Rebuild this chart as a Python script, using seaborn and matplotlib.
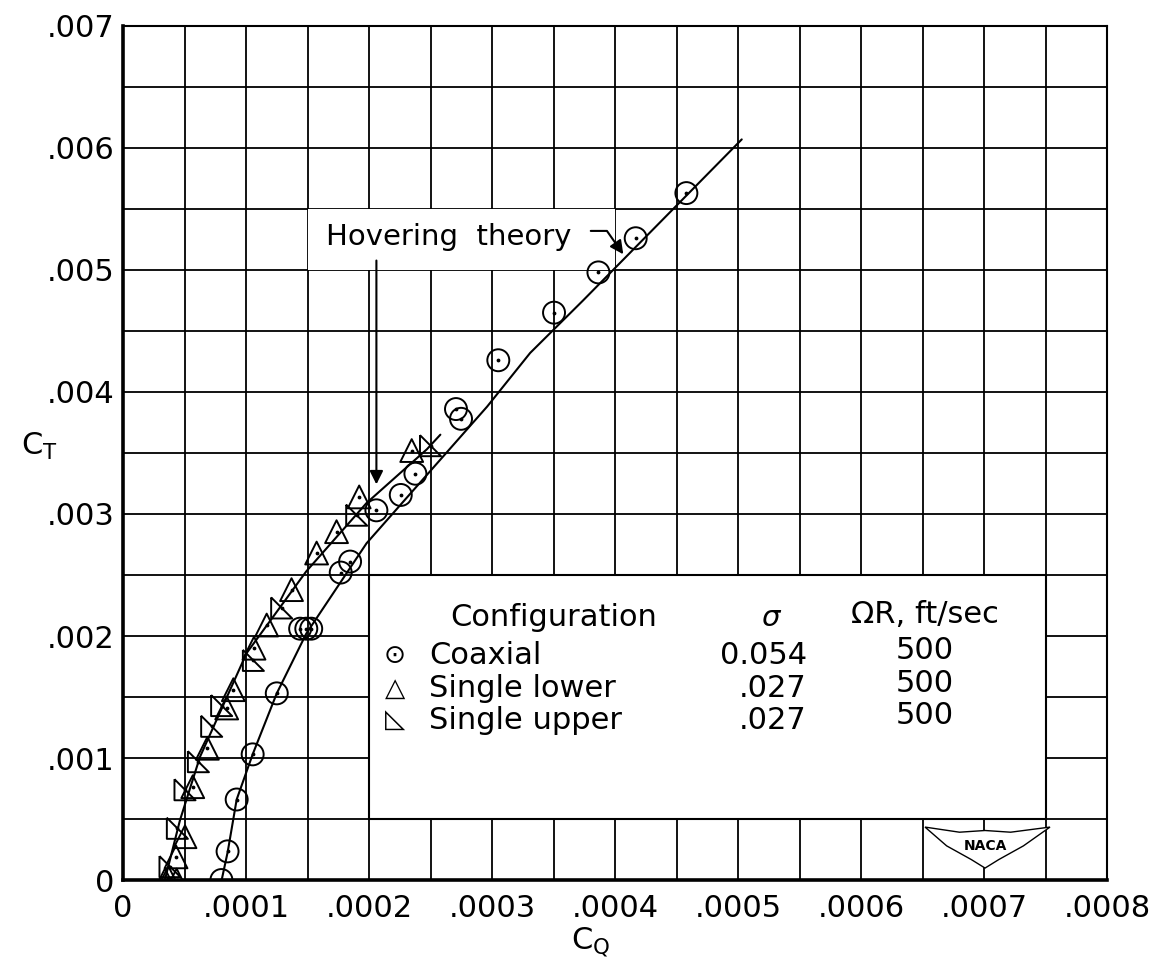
import numpy as np
import pandas as pd
import matplotlib.pyplot as plt
import matplotlib.patches as mpatches
import seaborn as sns

# Coaxial rotor test points (C_Q, C_T)
coax_cq = [0.0000800, 0.0000850, 0.0000924, 0.0001054, 0.0001250, 0.0001440, 0.0001490,
           0.0001530, 0.0001770, 0.0001846, 0.0002060, 0.0002258, 0.0002377, 0.0002707,
           0.0002748, 0.0003051, 0.0003504, 0.0003865, 0.0004168, 0.0004580]
coax_ct = [0.00000, 0.000235, 0.00066, 0.00103, 0.00153, 0.00206, 0.00206,
           0.00206, 0.00252, 0.00261, 0.00303, 0.003156, 0.00333, 0.00386,
           0.00378, 0.00426, 0.00465, 0.00498, 0.00526, 0.00563]

# Single lower rotor
lower_cq = [0.0000341, 0.0000369, 0.0000436, 0.0000431, 0.0000504, 0.0000567, 0.0000686,
            0.0000843, 0.0000897, 0.0001065, 0.0001168, 0.0001370, 0.0001574, 0.0001736,
            0.0001920, 0.0002347]
lower_ct = [0.00000, 0.00002, 0.00000, 0.00019, 0.000355, 0.000765, 0.00108,
            0.00141, 0.00156, 0.00190, 0.00209, 0.00238, 0.00268, 0.002855,
            0.00314, 0.00352]

# Single upper rotor
upper_cq = [0.0000382, 0.0000442, 0.0000504, 0.0000613, 0.0000721, 0.0000802, 0.0001060,
            0.0001290, 0.0001900, 0.0002500]
upper_ct = [0.00011, 0.000424, 0.00074, 0.00097, 0.00126, 0.00143, 0.00180,
            0.00223, 0.00299, 0.00356]

# Hovering theory curves
single_theory_cq = [0.0000340, 0.0000463, 0.0000626, 0.0001005, 0.0001490, 0.0001980,
                    0.0002470, 0.0002580]
single_theory_ct = [0.00000, 0.00049, 0.00101, 0.00186, 0.00253, 0.00309, 0.00353, 0.00365]
coax_theory_cq = [0.0000802, 0.0000851, 0.0000924, 0.0001054, 0.0001250, 0.0001490,
                  0.0001980, 0.0002960, 0.0003310, 0.0003740, 0.0005030]
coax_theory_ct = [0.00000, 0.00023, 0.00066, 0.00103, 0.00153, 0.00202,
                  0.00276, 0.00388, 0.00432, 0.00475, 0.00607]

xtick_vals = [0, 0.0001, 0.0002, 0.0003, 0.0004, 0.0005, 0.0006, 0.0007, 0.0008]
xtick_labels = ["0", ".0001", ".0002", ".0003", ".0004", ".0005", ".0006", ".0007", ".0008"]
ytick_vals = [0, 0.001, 0.002, 0.003, 0.004, 0.005, 0.006, 0.007]
ytick_labels = ["0", ".001", ".002", ".003", ".004", ".005", ".006", ".007"]

legend_names = ["Coaxial", "Single lower", "Single upper"]
legend_sigma = ["0.054", ".027", ".027"]
legend_speed = ["500", "500", "500"]
legend_glyphs = ["\u2299", "\u25B3", "\u25FA"]


def main():
    sns.set_theme(style="white")
    plt.rcParams['font.family'] = ['DejaVu Sans']
    plt.rcParams['mathtext.default'] = 'regular'
    plt.rcParams['text.color'] = 'black'
    plt.rcParams['axes.labelcolor'] = 'black'

    fig = plt.figure(figsize=(11.55, 9.64), dpi=100)
    ax = fig.add_axes([0.1065, 0.0871, 0.852, 0.886])

    # Grid
    ax.set_xlim(0, 0.0008)
    ax.set_ylim(0, 0.007)
    ax.set_xticks(xtick_vals)
    ax.set_xticklabels(xtick_labels)
    ax.set_yticks(ytick_vals)
    ax.set_yticklabels(ytick_labels)
    ax.set_xticks(np.arange(0, 0.00081, 0.00005), minor=True)
    ax.set_yticks(np.arange(0, 0.00701, 0.0005), minor=True)
    ax.grid(True, which='both', color='black', linewidth=1.3)
    ax.set_axisbelow(True)
    ax.tick_params(which='both', length=0, labelsize=22, colors='black')
    ax.tick_params(axis='x', pad=10)
    ax.tick_params(axis='y', pad=6)
    for side, lw in [('left', 2.6), ('bottom', 2.6), ('top', 1.5), ('right', 1.5)]:
        ax.spines[side].set_color('black')
        ax.spines[side].set_linewidth(lw)

    # Blank areas for label and legend table
    ax.add_patch(mpatches.Rectangle((0.00015, 0.005), 0.00025, 0.0005,
                                    facecolor='white', edgecolor='none', zorder=1))
    ax.add_patch(mpatches.Rectangle((0.0002, 0.0005), 0.00055, 0.002,
                                    facecolor='white', edgecolor='black', linewidth=1.5, zorder=1))

    # Curves
    sns.lineplot(x=single_theory_cq, y=single_theory_ct, sort=False, estimator=None,
                 color='black', linewidth=1.5, ax=ax, zorder=3)
    sns.lineplot(x=coax_theory_cq, y=coax_theory_ct, sort=False, estimator=None,
                 color='black', linewidth=1.5, ax=ax, zorder=3)

    # Data points
    right_tri = [(-1, 1), (-1, -1), (1, -1), (-1, 1)]
    mk = dict(color='black', facecolor='none', edgecolor='black', linewidth=1.4, zorder=4)
    sns.scatterplot(x=coax_cq, y=coax_ct, marker='o', s=250, ax=ax, **mk)
    sns.scatterplot(x=lower_cq, y=lower_ct, marker='^', s=270, ax=ax, **mk)
    sns.scatterplot(x=upper_cq, y=upper_ct, marker=right_tri, s=230, ax=ax, **mk)
    for xs, ys in [(coax_cq, coax_ct), (lower_cq, lower_ct), (upper_cq, upper_ct)]:
        ax.scatter(xs, ys, s=3, color='black', zorder=5)

    # Hovering theory annotation
    ax.text(0.000265, 0.00527, "Hovering  theory", fontsize=21, ha='center', va='center', zorder=6)
    ax.annotate("", xy=(0.000206, 0.00322), xytext=(0.000206, 0.0051),
                arrowprops=dict(arrowstyle='-|>', color='black', lw=1.5, mutation_scale=20), zorder=6)
    ax.annotate("", xy=(0.000408, 0.00511), xytext=(0.000378, 0.00532),
                arrowprops=dict(arrowstyle='-|>', color='black', lw=1.5, mutation_scale=20,
                                connectionstyle='angle,angleA=0,angleB=-55,rad=0'), zorder=6)

    # Legend table
    ax.text(0.000266, 0.00215, "Configuration", fontsize=22, ha='left', va='center', zorder=6)
    ax.text(0.000526, 0.00215, "\u03c3", fontsize=21, style='italic', ha='center', va='center', zorder=6)
    ax.text(0.000652, 0.00218, "\u03a9R, ft/sec", fontsize=22, ha='center', va='center', zorder=6)
    row_y = [0.00184, 0.00157, 0.00131]
    for g, name, sig, spd, yy in zip(legend_glyphs, legend_names, legend_sigma, legend_speed, row_y):
        ax.text(0.000221, yy, g, fontsize=19, ha='center', va='center', zorder=6)
        ax.text(0.000249, yy, name, fontsize=22, ha='left', va='center', zorder=6)
        ax.text(0.000556, yy, sig, fontsize=22, ha='right', va='center', zorder=6)
        ax.text(0.000652, yy + 0.00004, spd, fontsize=22, ha='center', va='center', zorder=6)

    # NACA wing logo
    wing = [(0.815, 0.062), (0.850, 0.056), (0.876, 0.058), (0.902, 0.056), (0.942, 0.062),
            (0.915, 0.040), (0.890, 0.024), (0.876, 0.014), (0.862, 0.024), (0.837, 0.040)]
    ax.add_patch(mpatches.Polygon(wing, closed=True, transform=ax.transAxes,
                                  facecolor='white', edgecolor='black', linewidth=1.0, zorder=6))
    ax.text(0.876, 0.040, "NACA", transform=ax.transAxes, fontsize=10, fontweight='bold',
            ha='center', va='center', zorder=7)

    ax.set_xlabel("C$_Q$", fontsize=22)
    ax.set_ylabel("C$_T$", fontsize=22, rotation=0)
    ax.xaxis.set_label_coords(0.475, -0.053)
    ax.yaxis.set_label_coords(-0.085, 0.49)

    fig.savefig('out.png', dpi=100)


if __name__ == "__main__":
    main()
